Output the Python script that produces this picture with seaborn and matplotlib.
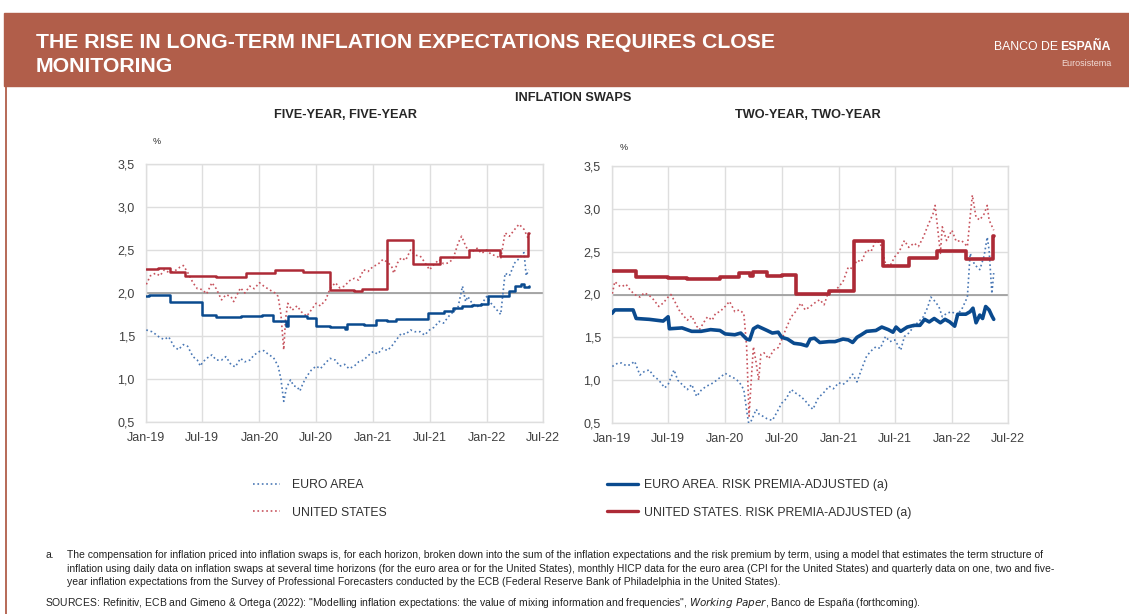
import numpy as np
import pandas as pd
import matplotlib
matplotlib.use('Agg')
import matplotlib.pyplot as plt
import matplotlib.ticker as mticker
import seaborn as sns

sns.set_style('white')
plt.rcParams['font.family'] = ['Liberation Sans', 'DejaVu Sans']

# ---- data ----
# five-year, five-year : United States, observed swaps
us55_dates = ['2019-01-02', '2019-01-15', '2019-02-01', '2019-02-15', '2019-03-01', '2019-03-15', '2019-04-01',
              '2019-04-20', '2019-05-01', '2019-05-15', '2019-06-01', '2019-06-15', '2019-07-01', '2019-07-15',
              '2019-08-01', '2019-08-15', '2019-09-01', '2019-09-15', '2019-10-01', '2019-10-10', '2019-11-01',
              '2019-11-15', '2019-12-01', '2019-12-15', '2020-01-01', '2020-01-15', '2020-02-01', '2020-02-20',
              '2020-03-01', '2020-03-10', '2020-03-19', '2020-03-25', '2020-04-01', '2020-04-15', '2020-05-01',
              '2020-05-15', '2020-06-01', '2020-06-15', '2020-07-01', '2020-07-15', '2020-08-01', '2020-08-15',
              '2020-09-01', '2020-09-15', '2020-10-01', '2020-10-15', '2020-11-01', '2020-11-15', '2020-12-01',
              '2020-12-15', '2021-01-01', '2021-01-15', '2021-02-01', '2021-02-15', '2021-03-01', '2021-03-08',
              '2021-03-20', '2021-04-01', '2021-04-15', '2021-05-01', '2021-05-15', '2021-06-01', '2021-06-15',
              '2021-07-01', '2021-07-15', '2021-08-01', '2021-08-15', '2021-09-01', '2021-09-15', '2021-10-01',
              '2021-10-12', '2021-10-25', '2021-11-01', '2021-11-15', '2021-12-01', '2021-12-15', '2022-01-01',
              '2022-01-15', '2022-02-01', '2022-02-15', '2022-03-01', '2022-03-15', '2022-04-01', '2022-04-15',
              '2022-05-01', '2022-05-16']
us55_vals = [2.10, 2.20, 2.23, 2.20, 2.27, 2.24, 2.25, 2.30, 2.32, 2.24, 2.12, 2.05, 2.04, 1.99,
             2.12, 2.05, 1.92, 1.98, 1.96, 1.90, 2.06, 2.00, 2.08, 2.05, 2.12, 2.08, 2.04, 2.00,
             1.96, 1.75, 1.34, 1.70, 1.88, 1.80, 1.85, 1.78, 1.73, 1.80, 1.88, 1.85, 1.92, 2.05,
             2.12, 2.06, 2.08, 2.14, 2.17, 2.15, 2.27, 2.25, 2.31, 2.33, 2.39, 2.36, 2.31, 2.23,
             2.35, 2.41, 2.38, 2.50, 2.44, 2.43, 2.36, 2.27, 2.33, 2.39, 2.34, 2.35, 2.40, 2.58,
             2.66, 2.55, 2.50, 2.48, 2.52, 2.46, 2.50, 2.45, 2.43, 2.40, 2.70, 2.66, 2.74, 2.80,
             2.74, 2.62]

# five-year, five-year : United States, risk premia-adjusted
us55_adj_dates = ['2019-01-01', '2019-02-10', '2019-03-18', '2019-05-05', '2019-08-15', '2019-11-20',
                  '2020-02-20', '2020-05-20', '2020-08-15', '2020-11-01', '2020-11-25', '2021-02-15',
                  '2021-05-08', '2021-08-05', '2021-11-05', '2022-02-12', '2022-05-14', '2022-05-17']
us55_adj_vals = [2.28, 2.29, 2.24, 2.20, 2.19, 2.23, 2.27, 2.25, 2.04, 2.02, 2.05, 2.62,
                 2.34, 2.42, 2.50, 2.43, 2.70, 2.70]

# five-year, five-year : euro area, observed swaps
ea55_dates = ['2019-01-02', '2019-01-20', '2019-02-01', '2019-02-15', '2019-03-01', '2019-03-15', '2019-04-01',
              '2019-04-15', '2019-05-01', '2019-05-15', '2019-06-01', '2019-06-15', '2019-06-25', '2019-07-01',
              '2019-07-15', '2019-08-01', '2019-08-15', '2019-09-01', '2019-09-15', '2019-10-01', '2019-10-15',
              '2019-11-01', '2019-11-15', '2019-12-01', '2019-12-15', '2020-01-01', '2020-01-15', '2020-02-01',
              '2020-02-15', '2020-03-01', '2020-03-10', '2020-03-19', '2020-03-28', '2020-04-10', '2020-04-20',
              '2020-05-01', '2020-05-10', '2020-05-20', '2020-06-01', '2020-06-15', '2020-07-01', '2020-07-15',
              '2020-08-01', '2020-08-15', '2020-09-01', '2020-09-15', '2020-10-01', '2020-10-15', '2020-11-01',
              '2020-11-15', '2020-12-01', '2020-12-15', '2021-01-01', '2021-01-15', '2021-02-01', '2021-02-15',
              '2021-03-01', '2021-03-15', '2021-04-01', '2021-04-15', '2021-05-01', '2021-05-15', '2021-06-01',
              '2021-06-15', '2021-07-01', '2021-07-15', '2021-08-01', '2021-08-15', '2021-09-01', '2021-09-15',
              '2021-10-01', '2021-10-15', '2021-10-25', '2021-11-01', '2021-11-15', '2021-12-01', '2021-12-15',
              '2022-01-01', '2022-01-15', '2022-02-01', '2022-02-15', '2022-03-01', '2022-03-15', '2022-04-01',
              '2022-04-15', '2022-05-01', '2022-05-08', '2022-05-16']
ea55_vals = [1.57, 1.55, 1.52, 1.48, 1.46, 1.49, 1.38, 1.34, 1.40, 1.38, 1.26, 1.22, 1.15, 1.19,
             1.24, 1.28, 1.22, 1.22, 1.26, 1.17, 1.14, 1.24, 1.20, 1.22, 1.28, 1.32, 1.33, 1.28,
             1.25, 1.15, 1.00, 0.74, 0.90, 0.99, 0.92, 0.91, 0.86, 0.95, 1.03, 1.10, 1.15, 1.12,
             1.19, 1.24, 1.22, 1.15, 1.17, 1.12, 1.15, 1.20, 1.22, 1.27, 1.32, 1.29, 1.36, 1.33,
             1.38, 1.45, 1.53, 1.52, 1.57, 1.55, 1.55, 1.51, 1.57, 1.60, 1.67, 1.65, 1.73, 1.78,
             1.84, 2.08, 1.90, 1.96, 1.88, 1.84, 1.87, 1.96, 1.88, 1.81, 1.75, 2.23, 2.20, 2.35,
             2.40, 2.47, 2.20, 2.27]

# five-year, five-year : euro area, risk premia-adjusted
ea55_adj_dates = ['2019-01-01', '2019-01-10', '2019-03-18', '2019-07-01', '2019-08-15', '2019-11-01',
                  '2020-01-10', '2020-02-15', '2020-03-25', '2020-04-01', '2020-06-01', '2020-07-01',
                  '2020-08-15', '2020-10-01', '2020-10-10', '2020-12-01', '2021-01-10', '2021-02-15',
                  '2021-03-15', '2021-05-01', '2021-06-25', '2021-08-15', '2021-09-15', '2021-10-15',
                  '2021-11-15', '2021-12-15', '2022-01-05', '2022-02-15', '2022-03-15', '2022-04-01',
                  '2022-04-20', '2022-05-01', '2022-05-16']
ea55_adj_vals = [1.96, 1.98, 1.90, 1.74, 1.72, 1.73, 1.74, 1.67, 1.62, 1.73, 1.71, 1.62,
                 1.60, 1.58, 1.64, 1.63, 1.69, 1.67, 1.70, 1.70, 1.77, 1.79, 1.83, 1.85,
                 1.86, 1.87, 1.96, 1.97, 2.02, 2.08, 2.10, 2.07, 2.08]

# two-year, two-year : United States, observed swaps
us22_dates = ['2019-01-02', '2019-01-10', '2019-01-25', '2019-02-01', '2019-02-15', '2019-03-01', '2019-03-15',
              '2019-04-01', '2019-04-15', '2019-05-01', '2019-05-15', '2019-06-01', '2019-06-15', '2019-07-01',
              '2019-07-10', '2019-07-25', '2019-08-05', '2019-08-20', '2019-09-01', '2019-09-15', '2019-10-01',
              '2019-10-10', '2019-10-25', '2019-11-05', '2019-11-20', '2019-12-01', '2019-12-15', '2020-01-01',
              '2020-01-15', '2020-02-01', '2020-02-15', '2020-03-01', '2020-03-10', '2020-03-18', '2020-03-25',
              '2020-04-01', '2020-04-10', '2020-04-18', '2020-04-25', '2020-05-05', '2020-05-20', '2020-06-05',
              '2020-06-20', '2020-07-01', '2020-07-15', '2020-08-01', '2020-08-15', '2020-09-01', '2020-09-15',
              '2020-10-01', '2020-10-15', '2020-11-01', '2020-11-15', '2020-12-01', '2020-12-15', '2021-01-01',
              '2021-01-15', '2021-02-01', '2021-02-15', '2021-03-01', '2021-03-15', '2021-04-01', '2021-04-15',
              '2021-05-01', '2021-05-15', '2021-06-01', '2021-06-15', '2021-07-01', '2021-07-15', '2021-08-01',
              '2021-08-15', '2021-09-01', '2021-09-15', '2021-10-01', '2021-10-15', '2021-11-01', '2021-11-08',
              '2021-11-25', '2021-12-01', '2021-12-15', '2022-01-01', '2022-01-15', '2022-02-01', '2022-02-20',
              '2022-03-01', '2022-03-08', '2022-03-20', '2022-04-01', '2022-04-15', '2022-04-25', '2022-05-01',
              '2022-05-16']
us22_vals = [2.01, 2.15, 2.10, 2.09, 2.12, 2.05, 2.00, 1.97, 2.02, 1.99, 1.94, 1.86, 1.90, 1.97,
             2.00, 1.90, 1.82, 1.75, 1.70, 1.75, 1.63, 1.59, 1.68, 1.74, 1.70, 1.78, 1.80, 1.86,
             1.92, 1.80, 1.82, 1.78, 1.40, 0.58, 1.00, 1.39, 1.20, 1.00, 1.30, 1.32, 1.25, 1.35,
             1.38, 1.47, 1.60, 1.74, 1.80, 1.90, 1.82, 1.86, 1.90, 1.94, 1.88, 2.05, 2.02, 2.09,
             2.15, 2.32, 2.30, 2.40, 2.38, 2.52, 2.50, 2.63, 2.60, 2.36, 2.33, 2.44, 2.50, 2.63,
             2.55, 2.60, 2.56, 2.67, 2.80, 2.94, 3.04, 2.48, 2.79, 2.63, 2.75, 2.62, 2.63, 2.56,
             2.91, 3.16, 2.90, 2.87, 2.94, 3.04, 2.87, 2.75]

# two-year, two-year : United States, risk premia-adjusted
us22_adj_dates = ['2019-01-01', '2019-03-20', '2019-04-15', '2019-07-01', '2019-09-01', '2019-12-15',
                  '2020-02-15', '2020-03-20', '2020-04-01', '2020-05-15', '2020-07-01', '2020-08-15',
                  '2020-12-01', '2021-02-20', '2021-05-25', '2021-08-15', '2021-11-15', '2022-02-15',
                  '2022-05-14', '2022-05-17']
us22_adj_vals = [2.28, 2.21, 2.20, 2.19, 2.18, 2.21, 2.25, 2.22, 2.26, 2.22, 2.23, 2.01,
                 2.04, 2.62, 2.33, 2.43, 2.51, 2.42, 2.68, 2.68]

# two-year, two-year : euro area, observed swaps
ea22_dates = ['2019-01-02', '2019-01-20', '2019-02-01', '2019-02-15', '2019-03-01', '2019-03-15', '2019-04-01',
              '2019-04-15', '2019-05-01', '2019-05-15', '2019-06-01', '2019-06-20', '2019-07-01', '2019-07-20',
              '2019-08-01', '2019-08-15', '2019-09-01', '2019-09-15', '2019-10-01', '2019-10-15', '2019-11-01',
              '2019-11-15', '2019-12-01', '2019-12-15', '2020-01-01', '2020-01-15', '2020-02-01', '2020-02-15',
              '2020-03-01', '2020-03-12', '2020-03-18', '2020-03-28', '2020-04-10', '2020-04-20', '2020-05-01',
              '2020-05-15', '2020-06-01', '2020-06-15', '2020-07-01', '2020-07-15', '2020-08-01', '2020-08-15',
              '2020-09-01', '2020-09-15', '2020-10-01', '2020-10-10', '2020-10-25', '2020-11-01', '2020-11-15',
              '2020-12-01', '2020-12-15', '2021-01-01', '2021-01-15', '2021-02-01', '2021-02-15', '2021-03-01',
              '2021-03-15', '2021-04-01', '2021-04-15', '2021-05-01', '2021-05-15', '2021-06-01', '2021-06-15',
              '2021-07-01', '2021-07-20', '2021-08-01', '2021-08-15', '2021-09-01', '2021-09-15', '2021-10-01',
              '2021-10-15', '2021-10-25', '2021-11-05', '2021-11-20', '2021-12-01', '2021-12-15', '2022-01-01',
              '2022-01-15', '2022-02-01', '2022-02-20', '2022-03-01', '2022-03-15', '2022-04-01', '2022-04-15',
              '2022-04-25', '2022-05-01', '2022-05-10', '2022-05-16']
ea22_vals = [1.16, 1.20, 1.20, 1.17, 1.18, 1.22, 1.06, 1.10, 1.12, 1.05, 1.00, 0.91, 0.95, 1.12,
             1.00, 0.95, 0.89, 0.95, 0.81, 0.88, 0.93, 0.95, 0.99, 1.03, 1.08, 1.05, 1.02, 0.98,
             0.89, 0.60, 0.47, 0.55, 0.66, 0.60, 0.58, 0.55, 0.53, 0.62, 0.73, 0.78, 0.89, 0.85,
             0.81, 0.76, 0.69, 0.66, 0.78, 0.81, 0.86, 0.93, 0.90, 0.97, 0.95, 1.00, 1.07, 0.98,
             1.12, 1.28, 1.34, 1.39, 1.37, 1.51, 1.45, 1.47, 1.35, 1.51, 1.55, 1.63, 1.68, 1.74,
             1.85, 1.97, 1.93, 1.86, 1.74, 1.78, 1.80, 1.76, 1.82, 1.97, 2.48, 2.35, 2.29, 2.45,
             2.67, 2.52, 2.01, 2.25]

# two-year, two-year : euro area, risk premia-adjusted
ea22_adj_dates = ['2019-01-01', '2019-01-10', '2019-03-10', '2019-03-20', '2019-05-01', '2019-06-15',
                  '2019-07-01', '2019-07-05', '2019-08-15', '2019-09-15', '2019-10-15', '2019-11-15',
                  '2019-12-15', '2020-01-01', '2020-02-01', '2020-02-20', '2020-03-10', '2020-03-20',
                  '2020-04-01', '2020-04-15', '2020-05-15', '2020-06-01', '2020-06-20', '2020-07-01',
                  '2020-07-20', '2020-08-10', '2020-09-01', '2020-09-20', '2020-10-01', '2020-10-15',
                  '2020-11-01', '2020-12-01', '2020-12-20', '2021-01-15', '2021-02-01', '2021-02-15',
                  '2021-03-01', '2021-03-15', '2021-04-01', '2021-05-01', '2021-05-20', '2021-06-10',
                  '2021-06-25', '2021-07-05', '2021-07-20', '2021-08-10', '2021-09-01', '2021-09-20',
                  '2021-10-05', '2021-10-20', '2021-11-05', '2021-11-25', '2021-12-10', '2021-12-25',
                  '2022-01-10', '2022-01-20', '2022-02-15', '2022-03-01', '2022-03-10', '2022-03-20',
                  '2022-04-01', '2022-04-10', '2022-04-20', '2022-05-01', '2022-05-10', '2022-05-16']
ea22_adj_vals = [1.78, 1.82, 1.82, 1.72, 1.71, 1.69, 1.74, 1.60, 1.61, 1.57, 1.57, 1.59,
                 1.58, 1.54, 1.53, 1.55, 1.48, 1.47, 1.60, 1.63, 1.58, 1.55, 1.56, 1.50,
                 1.48, 1.43, 1.42, 1.40, 1.48, 1.49, 1.44, 1.45, 1.45, 1.48, 1.47, 1.44,
                 1.50, 1.53, 1.57, 1.58, 1.62, 1.59, 1.56, 1.62, 1.57, 1.62, 1.64, 1.64,
                 1.71, 1.68, 1.72, 1.67, 1.71, 1.68, 1.63, 1.77, 1.77, 1.80, 1.84, 1.67,
                 1.76, 1.72, 1.86, 1.82, 1.75, 1.71]

ytick_vals = [0.5, 1.0, 1.5, 2.0, 2.5, 3.0, 3.5]
xtick_dates = ['2019-01-01', '2019-07-01', '2020-01-01', '2020-07-01', '2021-01-01',
               '2021-07-01', '2022-01-01', '2022-07-01']
xtick_labels = ['Jan-19', 'Jul-19', 'Jan-20', 'Jul-20', 'Jan-21', 'Jul-21', 'Jan-22', 'Jul-22']

labels = ['EURO AREA', 'UNITED STATES',
          'EURO AREA. RISK PREMIA-ADJUSTED (a)', 'UNITED STATES. RISK PREMIA-ADJUSTED (a)']

BLUE = '#0a4a8e'
RED = '#ad2a36'
BLUE_DOT = '#4a78b5'
RED_DOT = '#c7535d'
HEAD = '#b15e4a'

W, H = 1129, 614
fig = plt.figure(figsize=(W / 100, H / 100), dpi=100)


def fx(px):
    return px / W


def fy(py):
    return 1 - py / H


# header band
fig.patches.append(plt.Rectangle((fx(4), fy(86)), 1 - fx(4), (86 - 13) / H, transform=fig.transFigure,
                                 color=HEAD, zorder=0))
fig.add_artist(plt.Line2D([fx(5.5), fx(5.5)], [fy(86), fy(614)], transform=fig.transFigure, color=HEAD, lw=1.3))
fig.text(fx(36), fy(43), 'THE RISE IN LONG-TERM INFLATION EXPECTATIONS REQUIRES CLOSE', color='white',
         fontsize=15.3, fontweight='bold', va='center')
fig.text(fx(36), fy(66), 'MONITORING', color='white', fontsize=15.3, fontweight='bold', va='center')
t_esp = fig.text(fx(1111), fy(47), 'ESPAÑA', color='white', fontsize=8.8, va='center', ha='right',
                 fontweight='bold')
fig.canvas.draw()
esp_left = t_esp.get_window_extent().x0 / W
fig.text(esp_left - fx(2), fy(47), 'BANCO DE', color='white', fontsize=8.8, va='center', ha='right')
fig.text(fx(1111), fy(63), 'Eurosistema', color='#f1dcd6', fontsize=6.5, va='center', ha='right')

fig.text(fx(573), fy(98), 'INFLATION SWAPS', fontsize=9.2, fontweight='bold', ha='center', va='center')


def make_df(dates, vals):
    return pd.DataFrame({'date': pd.to_datetime(dates), 'value': vals})


def draw(ax, ea, ea_adj, us, us_adj, lw_solid, ea_steps):
    ax.axhline(2.0, color='#9a9a9a', lw=1.2, zorder=1)
    sns.lineplot(data=make_df(*ea), x='date', y='value', ax=ax, color=BLUE_DOT, lw=1.2, ls=':', zorder=3)
    sns.lineplot(data=make_df(*us), x='date', y='value', ax=ax, color=RED_DOT, lw=1.2, ls=':', zorder=3)
    sns.lineplot(data=make_df(*ea_adj), x='date', y='value', ax=ax, color=BLUE, lw=lw_solid, zorder=4,
                 drawstyle='steps-post' if ea_steps else 'default')
    sns.lineplot(data=make_df(*us_adj), x='date', y='value', ax=ax, color=RED, lw=lw_solid, zorder=4,
                 drawstyle='steps-post')
    ax.set_xlim(pd.Timestamp('2019-01-01'), pd.Timestamp('2022-07-01'))
    ax.set_ylim(0.5, 3.5)
    ax.set_xticks(pd.to_datetime(xtick_dates))
    ax.set_xticklabels(xtick_labels)
    ax.set_yticks(ytick_vals)
    ax.yaxis.set_major_formatter(mticker.FuncFormatter(lambda v, p: f'{v:.1f}'.replace('.', ',')))
    ax.grid(True, color='#dedede', lw=1)
    for s in ax.spines.values():
        s.set_color('#dedede')
        s.set_linewidth(1)
    ax.tick_params(labelsize=9, labelcolor='#404040', length=0)
    ax.tick_params(axis='x', pad=7)
    ax.tick_params(axis='y', pad=8)
    ax.set_xlabel('')
    ax.set_ylabel('')


ax1 = fig.add_axes([fx(146), fy(422), (543 - 146) / W, (422 - 164) / H])
draw(ax1, (ea55_dates, ea55_vals), (ea55_adj_dates, ea55_adj_vals), (us55_dates, us55_vals),
     (us55_adj_dates, us55_adj_vals), 1.8, True)
ax2 = fig.add_axes([fx(612), fy(423), (1008 - 612) / W, (423 - 166) / H])
draw(ax2, (ea22_dates, ea22_vals), (ea22_adj_dates, ea22_adj_vals), (us22_dates, us22_vals),
     (us22_adj_dates, us22_adj_vals), 2.6, False)

fig.text(fx(345), fy(115), 'FIVE-YEAR, FIVE-YEAR', fontsize=9.2, fontweight='bold', ha='center', va='center')
fig.text(fx(808), fy(115), 'TWO-YEAR, TWO-YEAR', fontsize=9.2, fontweight='bold', ha='center', va='center')
fig.text(fx(157), fy(142), '%', fontsize=6.5, ha='center', va='center')
fig.text(fx(624), fy(147), '%', fontsize=6.5, ha='center', va='center')

# legend
h_ea = plt.Line2D([], [], color=BLUE_DOT, lw=1.2, ls=':')
h_us = plt.Line2D([], [], color=RED_DOT, lw=1.2, ls=':')
h_ea_adj = plt.Line2D([], [], color=BLUE, lw=2.4)
h_us_adj = plt.Line2D([], [], color=RED, lw=2.4)
leg1 = fig.legend([h_ea, h_us], labels[:2], loc='center left', bbox_to_anchor=(fx(253), fy(499)),
                  frameon=False, fontsize=8.8, handlelength=2.2, handletextpad=1.0, labelspacing=1.25,
                  borderpad=0, borderaxespad=0)
leg2 = fig.legend([h_ea_adj, h_us_adj], labels[2:], loc='center left', bbox_to_anchor=(fx(607), fy(499)),
                  frameon=False, fontsize=8.8, handlelength=2.5, handletextpad=0.55, labelspacing=1.25,
                  borderpad=0, borderaxespad=0)
for lg in (leg1, leg2):
    for t in lg.get_texts():
        t.set_color('#303030')

# footnotes
note = ['The compensation for inflation priced into inflation swaps is, for each horizon, broken down into the sum of the inflation expectations and the risk premium by term, using a model that estimates the term structure of',
        'inflation using daily data on inflation swaps at several time horizons (for the euro area or for the United States), monthly HICP data for the euro area (CPI for the United States) and quarterly data on one, two and five-',
        'year inflation expectations from the Survey of Professional Forecasters conducted by the ECB (Federal Reserve Bank of Philadelphia in the United States).']
FN = 7.5
fig.text(fx(45), fy(555), 'a.', fontsize=FN, va='center', color='#222222')
for i, line in enumerate(note):
    fig.text(fx(67), fy(555 + 13.5 * i), line, fontsize=FN, va='center', color='#222222')
fig.text(fx(45), fy(603), 'SOURCES: Refinitiv, ECB and Gimeno & Ortega (2022): "Modelling inflation expectations: the value of mixing information and frequencies", '
         r'$\it{Working\ Paper}$, Banco de España (forthcoming).', fontsize=FN, va='center', color='#222222')

fig.savefig('out.png', dpi=100)
